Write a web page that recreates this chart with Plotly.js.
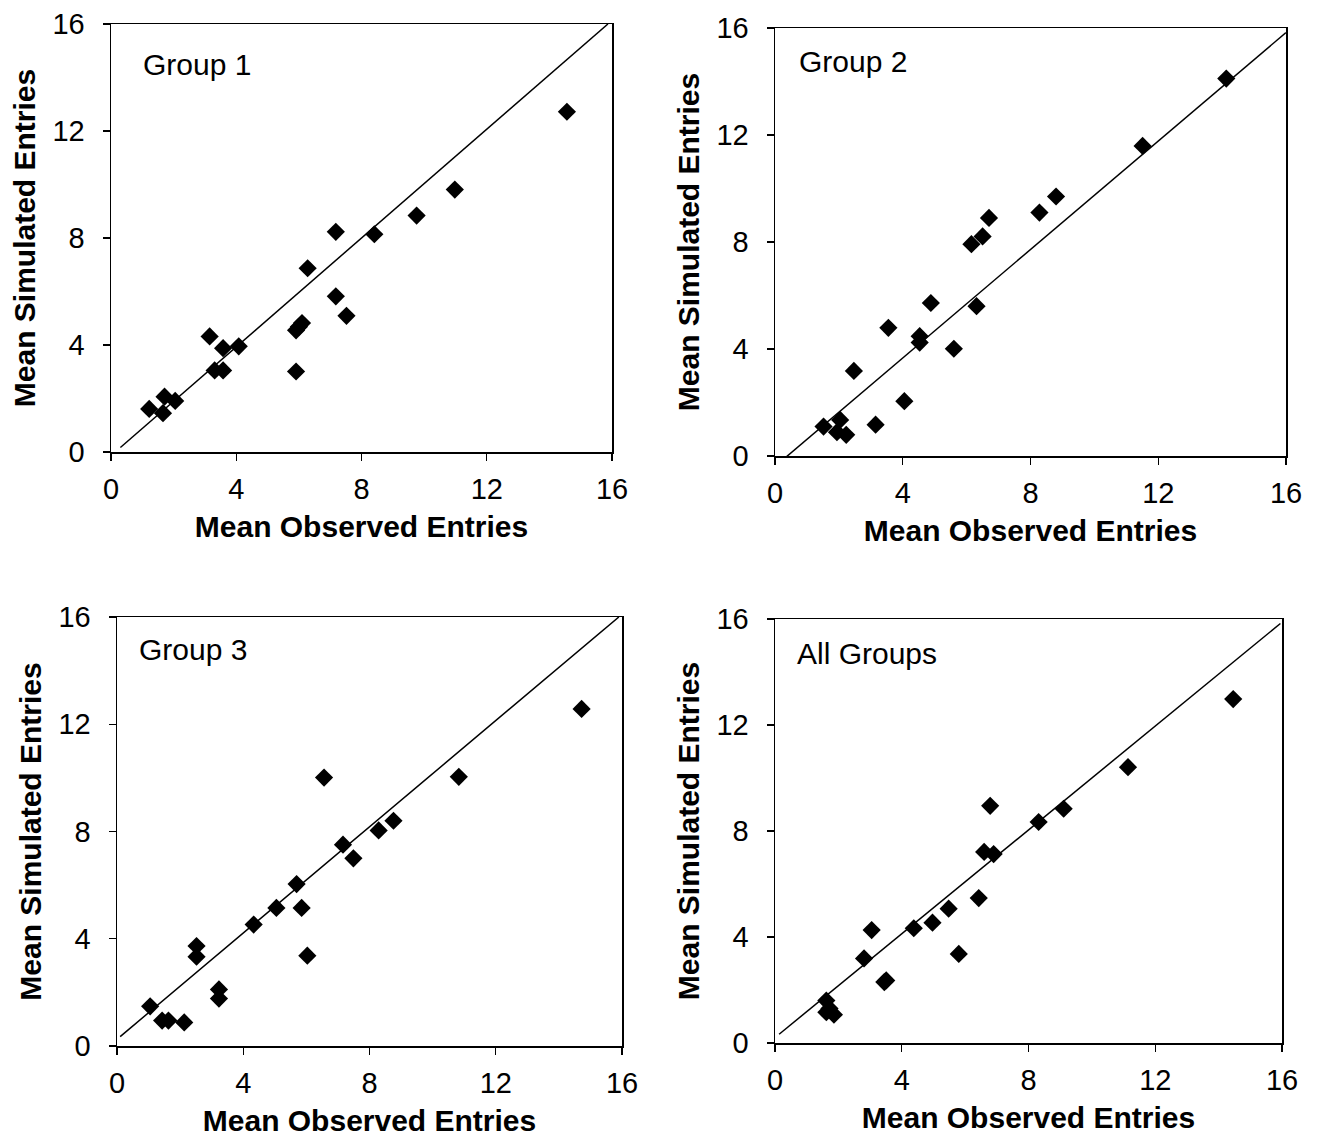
<!DOCTYPE html>
<html>
<head>
<meta charset="utf-8">
<script src="https://cdn.plot.ly/plotly-3.0.1.min.js"></script>
<style>html,body{margin:0;padding:0;background:#fff;}#chart{width:1317px;height:1138px;}</style>
</head>
<body>
<div id="chart"></div>
<script>
// ---- data ----
var panelLabels = ["Group 1", "Group 2", "Group 3", "All Groups"];
var tickValues = [0, 4, 8, 12, 16];
var tickLabels = ["0", "4", "8", "12", "16"];
var xTitle = "Mean Observed Entries";
var yTitle = "Mean Simulated Entries";

var g1x = [1.22, 1.66, 1.71, 2.05, 3.15, 3.31, 3.58, 3.58, 4.08, 5.91, 5.91, 6.0, 6.1, 6.28, 7.18, 7.18, 7.52, 8.41, 9.76, 10.98, 14.56];
var g1y = [1.61, 1.45, 2.07, 1.91, 4.32, 3.05, 3.05, 3.88, 3.95, 3.01, 4.55, 4.68, 4.82, 6.87, 5.82, 8.23, 5.09, 8.14, 8.84, 9.81, 12.72];

var g2x = [1.52, 2.04, 1.94, 2.23, 2.47, 3.15, 3.55, 4.05, 4.53, 4.53, 4.88, 5.60, 6.15, 6.31, 6.50, 6.70, 8.28, 8.80, 11.51, 14.13];
var g2y = [1.10, 1.35, 0.89, 0.79, 3.18, 1.17, 4.79, 2.05, 4.48, 4.24, 5.72, 4.01, 7.92, 5.60, 8.21, 8.90, 9.10, 9.70, 11.59, 14.11];

var g3x = [1.05, 1.43, 1.63, 2.13, 2.52, 2.52, 3.23, 3.23, 4.33, 5.05, 5.69, 5.85, 6.03, 6.56, 7.16, 7.49, 8.29, 8.76, 10.83, 14.72];
var g3y = [1.48, 0.95, 0.95, 0.88, 3.73, 3.33, 2.11, 1.77, 4.53, 5.15, 6.04, 5.15, 3.37, 10.01, 7.51, 7.00, 8.04, 8.40, 10.04, 12.57];

var allx = [1.62, 1.62, 1.72, 1.86, 2.81, 3.05, 3.45, 3.51, 4.38, 4.97, 5.48, 5.80, 6.43, 6.60, 6.90, 6.79, 8.32, 9.11, 11.14, 14.46];
var ally = [1.60, 1.16, 1.30, 1.07, 3.19, 4.26, 2.30, 2.36, 4.33, 4.54, 5.07, 3.36, 5.47, 7.21, 7.13, 8.95, 8.34, 8.84, 10.41, 12.98];

// fitted reference lines (end points)
var fit1x = [0.30, 15.87], fit1y = [0.17, 16.0];
var fit2x = [0.10, 16.0],  fit2y = [-0.29, 15.83];
var fit3x = [0.10, 15.9],  fit3y = [0.35, 16.0];
var fit4x = [0.13, 15.95], fit4y = [0.33, 15.83];

// ---- build ----
var font = "Liberation Sans, Arial, Helvetica, sans-serif";
var panels = [
  {x: g1x, y: g1y, fx: fit1x, fy: fit1y, xd: [111/1317, 612/1317], yd: [1-452/1138, 1-24/1138], lab: [0.96, 14.47]},
  {x: g2x, y: g2y, fx: fit2x, fy: fit2y, xd: [775/1317, 1286/1317], yd: [1-456/1138, 1-28/1138], lab: [0.69, 14.73]},
  {x: g3x, y: g3y, fx: fit3x, fy: fit3y, xd: [117/1317, 622/1317], yd: [1-1046/1138, 1-617/1138], lab: [0.63, 14.77]},
  {x: allx, y: ally, fx: fit4x, fy: fit4y, xd: [775/1317, 1282/1317], yd: [1-1043/1138, 1-619/1138], lab: [0.63, 14.68]}
];

var traces = [];
var layout = {
  width: 1317, height: 1138,
  margin: {l: 0, r: 0, t: 0, b: 0},
  paper_bgcolor: "#ffffff", plot_bgcolor: "#ffffff",
  showlegend: false,
  font: {family: font, color: "#000000"},
  annotations: []
};

panels.forEach(function (p, i) {
  var n = i + 1;
  var xa = "x" + (n === 1 ? "" : n), ya = "y" + (n === 1 ? "" : n);
  traces.push({
    type: "scatter", mode: "lines", x: p.fx, y: p.fy, xaxis: xa, yaxis: ya,
    line: {color: "#000000", width: 1.5}, hoverinfo: "skip"
  });
  traces.push({
    type: "scatter", mode: "markers", x: p.x, y: p.y, xaxis: xa, yaxis: ya,
    marker: {symbol: "diamond", size: 14, color: "#000000"}
  });
  var common = {
    range: [0, 16], tickvals: tickValues, ticktext: tickLabels,
    showgrid: false, zeroline: false, showline: true, mirror: true,
    linecolor: "#000000", linewidth: 1.5,
    ticks: "outside", ticklen: 7, tickwidth: 1.2, tickcolor: "#000000",
    tickfont: {family: font, size: 29, color: "#000000"},
    fixedrange: true
  };
  var xaxis = Object.assign({}, common, {
    domain: p.xd, anchor: ya,
    ticklabelstandoff: 4,
    title: {text: xTitle, font: {family: font, size: 30, color: "#000000", weight: "bold"}, standoff: 11}
  });
  var yaxis = Object.assign({}, common, {
    domain: p.yd, anchor: xa,
    ticklabelstandoff: 12,
    title: {text: yTitle, font: {family: font, size: 30, color: "#000000", weight: "bold"}, standoff: 8}
  });
  layout["xaxis" + (n === 1 ? "" : n)] = xaxis;
  layout["yaxis" + (n === 1 ? "" : n)] = yaxis;
  layout.annotations.push({
    text: panelLabels[i], xref: xa, yref: ya, x: p.lab[0], y: p.lab[1],
    xanchor: "left", yanchor: "middle", showarrow: false,
    font: {family: font, size: 30, color: "#000000"}
  });
});

Plotly.newPlot("chart", traces, layout, {staticPlot: true, displayModeBar: false});
</script>
</body>
</html>
